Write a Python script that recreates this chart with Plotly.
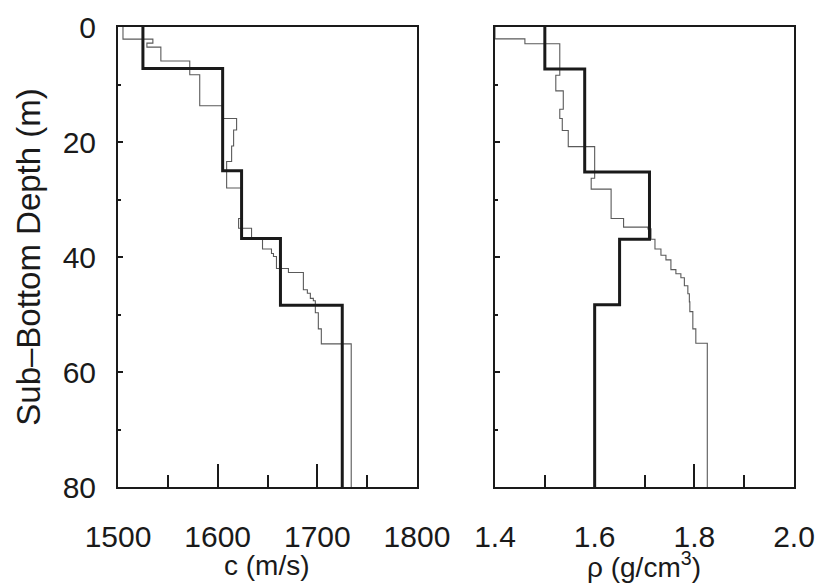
import plotly.graph_objects as go

# Layered model (thick) and measured core profile (thin), sub-bottom depth in m
c_model_top = [0, 7.2, 25.0, 36.8, 48.4]
c_model = [1525, 1605, 1624, 1663, 1725]

rho_model_top = [0, 7.3, 25.2, 36.9, 48.3]
rho_model = [1.50, 1.58, 1.71, 1.65, 1.60]

c_core_top = [0, 2.1, 2.8, 3.5, 5.9, 8.3, 13.7, 15.9, 17.9, 20.7, 23.4, 28.0, 33.3,
              35.0, 36.7, 38.6, 39.4, 39.9, 42.0, 42.7, 45.7, 46.3, 47.2, 47.6,
              49.7, 52.5, 55.1]
c_core = [1505, 1535, 1529, 1543, 1572, 1582, 1605, 1619, 1616, 1614, 1609, 1624,
          1621, 1634, 1645, 1654, 1656, 1659, 1671, 1686, 1690, 1693, 1696, 1698,
          1701, 1704, 1734]

rho_core_top = [0, 2.07, 2.9, 8.4, 11.1, 14.3, 15.9, 18.0, 20.8, 26.3, 28.2, 33.3,
                34.8, 35.1, 36.9, 38.6, 39.7, 40.5, 42.2, 42.9, 43.6, 45.0, 46.4,
                47.8, 49.5, 52.5, 55.0]
rho_core = [1.40, 1.46, 1.53, 1.522, 1.537, 1.53, 1.535, 1.547, 1.60, 1.593, 1.633,
            1.658, 1.707, 1.713, 1.721, 1.733, 1.743, 1.753, 1.763, 1.773, 1.78,
            1.787, 1.79, 1.791, 1.797, 1.803, 1.826]

max_depth = 80
depth_ticks = [0, 20, 40, 60, 80]
c_range = [1500, 1800]
c_ticks = [1500, 1600, 1700, 1800]
rho_range = [1.4, 2.0]
rho_ticks = [1.4, 1.6, 1.8, 2.0]
rho_tick_text = ["1.4", "1.6", "1.8", "2.0"]

c_title = "c (m/s)"
rho_title = "\u03c1 (g/cm<sup>3</sup>)"
depth_title = "Sub\u2013Bottom Depth (m)"


def profile(tops, values):
    # step profile: each value holds from its top down to the next top
    return list(values) + [values[-1]], list(tops) + [max_depth]


FONT = "Liberation Sans, Arial, sans-serif"
INK = "#1a1a1a"
FS = 30
DOM_L = [0, 0.4423]
DOM_R = [0.5577, 1]

fig = go.Figure()

for tops, vals, ax, w, col in [
    (c_core_top, c_core, ("x", "y"), 1.1, "#5a5a5a"),
    (c_model_top, c_model, ("x", "y"), 3.0, INK),
    (rho_core_top, rho_core, ("x2", "y2"), 1.1, "#5a5a5a"),
    (rho_model_top, rho_model, ("x2", "y2"), 3.0, INK),
]:
    xs, ys = profile(tops, vals)
    fig.add_trace(go.Scatter(
        x=xs, y=ys, mode="lines", line=dict(color=col, width=w, shape="vh"),
        xaxis=ax[0], yaxis=ax[1], showlegend=False, hoverinfo="skip"))


def x_ticks(minor_step):
    # long inward major ticks with shorter inward minor ticks
    return dict(showgrid=False, zeroline=False, ticks="inside", ticklen=23,
                tickwidth=2, tickcolor=INK, automargin=False,
                minor=dict(dtick=minor_step, ticks="inside", ticklen=12,
                           tickwidth=2, tickcolor=INK, showgrid=False))


common_y = dict(
    showgrid=False, zeroline=False, showline=True, linecolor=INK, linewidth=2,
    mirror=True, ticks="inside", ticklen=5, tickwidth=2, tickcolor=INK,
    range=[max_depth, 0], tickvals=depth_ticks,
    minor=dict(dtick=10, ticks="inside", ticklen=3, tickwidth=1.5, tickcolor=INK),
)

fig.update_layout(
    width=820, height=585, paper_bgcolor="white", plot_bgcolor="white",
    margin=dict(l=118, r=26, t=10, b=98),
    # bottom axes carry the labels and the frame
    xaxis=dict(x_ticks(50), showline=True, linecolor=INK, linewidth=2, mirror=True,
               tickfont=dict(family=FONT, size=FS, color=INK), ticklabelstandoff=22,
               domain=DOM_L, range=c_range, tickvals=c_ticks),
    xaxis2=dict(x_ticks(0.1), showline=True, linecolor=INK, linewidth=2, mirror=True,
                tickfont=dict(family=FONT, size=FS, color=INK), ticklabelstandoff=22,
                domain=DOM_R, range=rho_range, tickvals=rho_ticks,
                ticktext=rho_tick_text, anchor="y2"),
    # top axes repeat the tick marks only
    xaxis3=dict(x_ticks(50), overlaying="x", side="top", anchor="y", showline=False,
                showticklabels=False, domain=DOM_L, range=c_range, tickvals=c_ticks),
    xaxis4=dict(x_ticks(0.1), overlaying="x2", side="top", anchor="y2", showline=False,
                showticklabels=False, domain=DOM_R, range=rho_range, tickvals=rho_ticks),
    yaxis=dict(common_y, anchor="x", ticklabeloverflow="allow",
               tickfont=dict(family=FONT, size=FS, color=INK), ticklabelstandoff=14,
               title_text=depth_title, title_standoff=12,
               title_font=dict(family=FONT, size=33, color=INK)),
    yaxis2=dict(common_y, anchor="x2", showticklabels=False),
)

# axis titles placed just beneath the tick labels
for xd, txt in [(0.2211, c_title), (0.7788, rho_title)]:
    fig.add_annotation(text=txt, xref="paper", yref="paper", x=xd, y=-0.17,
                       xanchor="center", yanchor="middle", showarrow=False,
                       font=dict(family=FONT, size=28, color=INK))

fig.write_html("out.html")
